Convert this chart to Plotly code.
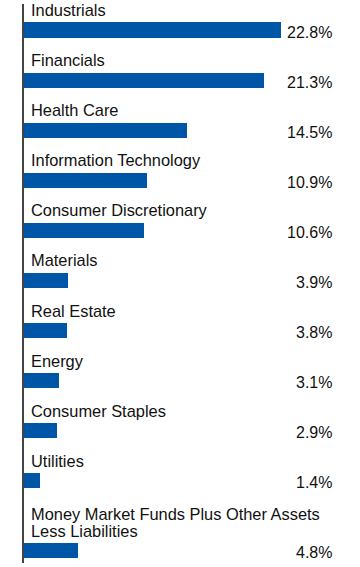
import plotly.graph_objects as go

categories = ["Industrials", "Financials", "Health Care", "Information Technology",
              "Consumer Discretionary", "Materials", "Real Estate", "Energy",
              "Consumer Staples", "Utilities",
              "Money Market Funds Plus Other Assets\nLess Liabilities"]
values = [22.8, 21.3, 14.5, 10.9, 10.6, 3.9, 3.8, 3.1, 2.9, 1.4, 4.8]
value_labels = ["22.8%", "21.3%", "14.5%", "10.9%", "10.6%", "3.9%", "3.8%",
                "3.1%", "2.9%", "1.4%", "4.8%"]

# slot positions: one slot per category, extra room for a two-line label
positions = []
p = 0.0
for i, c in enumerate(categories):
    if i > 0:
        p += 1.0 + 0.4 * (c.count("\n"))
    positions.append(p)

BAR_COLOR = "#0056A6"
TEXT_COLOR = "#111111"
FONT = "Liberation Sans, Arial, sans-serif"

fig = go.Figure()
fig.add_trace(go.Bar(
    x=values, y=positions, orientation="h", width=0.3,
    marker=dict(color=BAR_COLOR, line=dict(width=0)),
    hoverinfo="skip", showlegend=False,
))

annotations = []
for c, pos, lab in zip(categories, positions, value_labels):
    lines = c.split("\n")
    n = len(lines)
    for j, line in enumerate(lines):
        annotations.append(dict(
            x=0, y=pos, xref="x", yref="y", text=line, showarrow=False,
            xanchor="left", yanchor="bottom", xshift=5,
            yshift=9 + (n - 1 - j) * 16.7,
            font=dict(family=FONT, size=16.4, color=TEXT_COLOR),
        ))
    annotations.append(dict(
        x=0.9226, y=pos, xref="paper", yref="y", text=lab, showarrow=False,
        xanchor="right", yanchor="middle", yshift=-2,
        font=dict(family=FONT, size=16, color=TEXT_COLOR),
    ))

top_pad = 0.519
bottom_pad = 0.24
fig.update_layout(
    width=360, height=567,
    margin=dict(l=24, r=0, t=4, b=4),
    paper_bgcolor="white", plot_bgcolor="white",
    xaxis=dict(range=[0, 29.8], visible=False, fixedrange=True),
    yaxis=dict(range=[positions[-1] + bottom_pad, -top_pad],
               showline=True, linecolor="#444444", linewidth=1.5,
               showticklabels=False, showgrid=False, zeroline=False,
               ticks="", fixedrange=True),
    annotations=annotations,
    bargap=0,
    hovermode=False,
)

fig.write_html("out.html", config={"displayModeBar": False},
               post_script="document.body.style.margin='0';document.body.style.overflow='hidden';")
